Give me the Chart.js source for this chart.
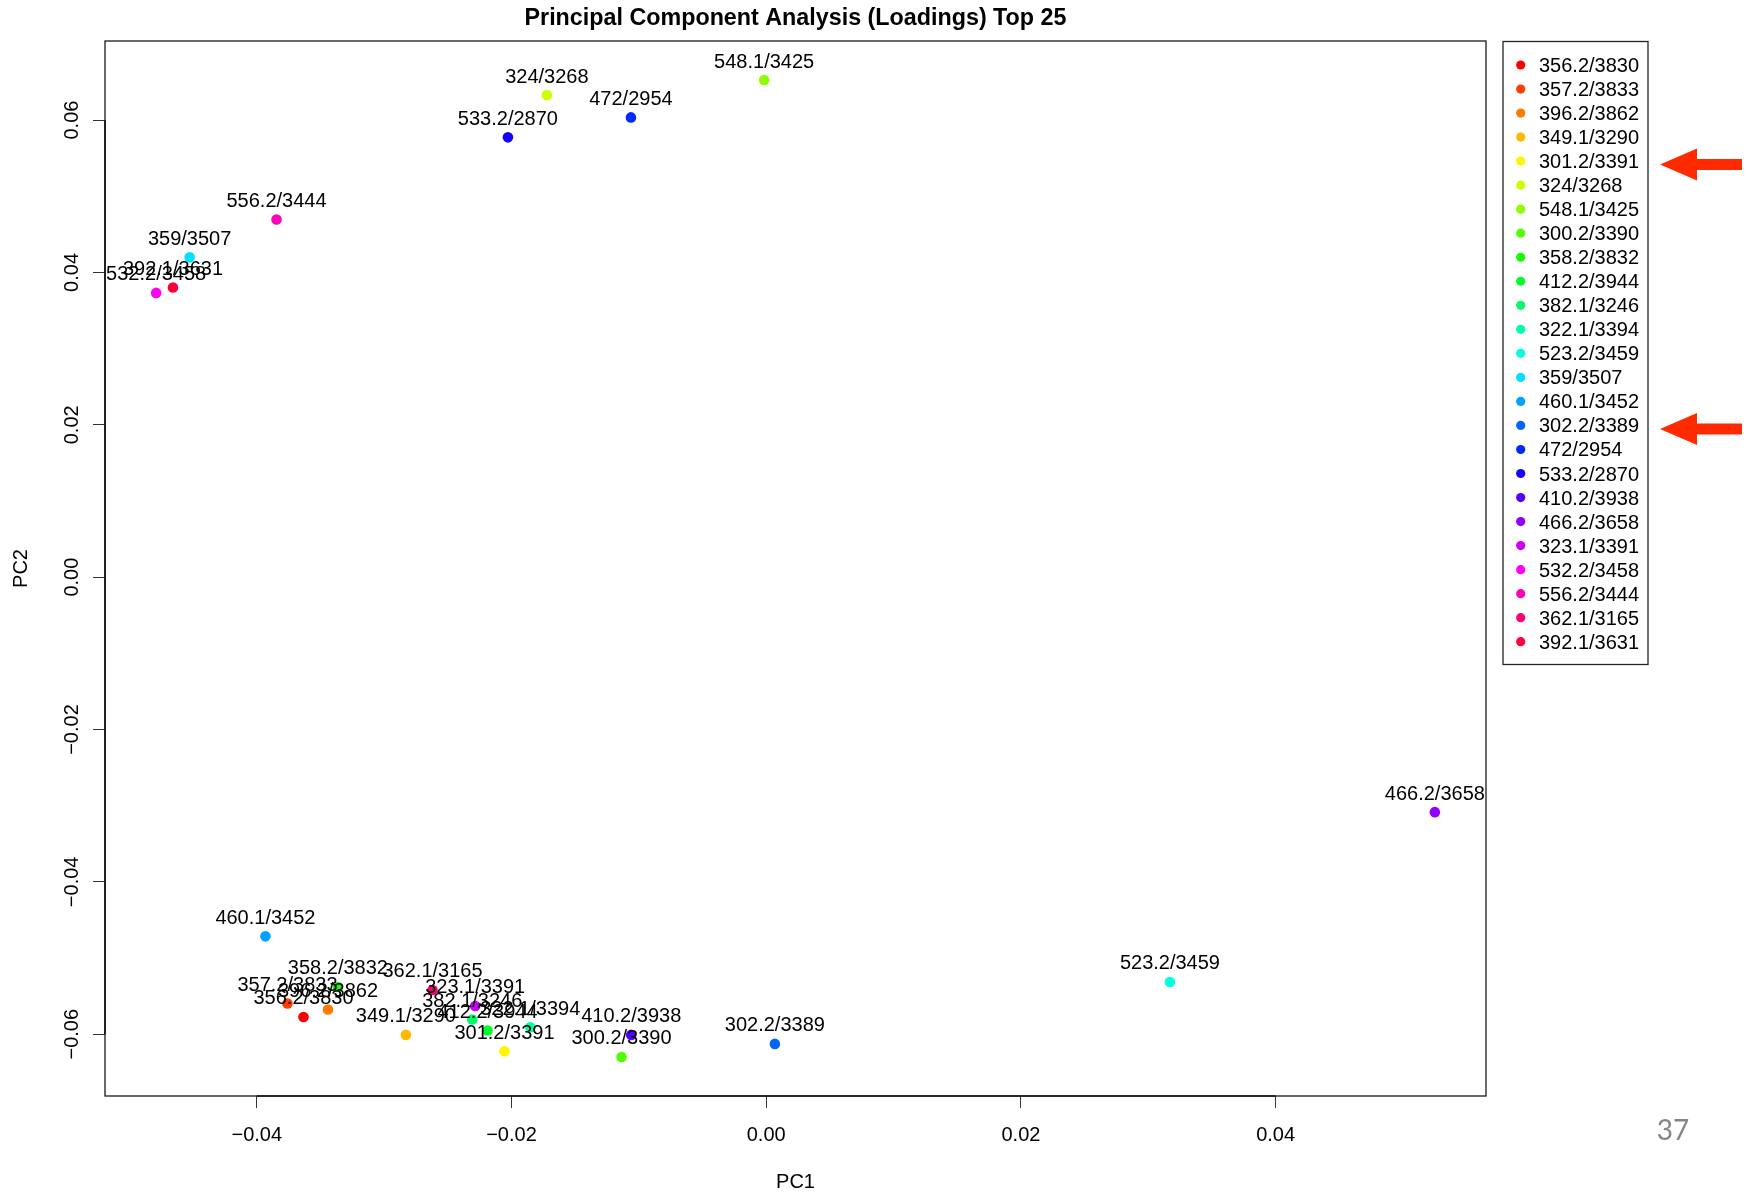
<!DOCTYPE html>
<html>
<head>
<meta charset="utf-8">
<title>Principal Component Analysis (Loadings) Top 25</title>
<script src="https://cdn.jsdelivr.net/npm/chart.js@4.4.1/dist/chart.umd.min.js"></script>
<style>
  html, body { margin: 0; padding: 0; background: #ffffff; overflow: hidden; }
  canvas { display: block; }
</style>
</head>
<body>
<canvas id="pca" width="1747" height="1193"></canvas>
<script>
// Loadings of the top 25 features (mass/retention) on the first two components
const compounds = [
  '356.2/3830', '357.2/3833', '396.2/3862', '349.1/3290', '301.2/3391',
  '324/3268',   '548.1/3425', '300.2/3390', '358.2/3832', '412.2/3944',
  '382.1/3246', '322.1/3394', '523.2/3459', '359/3507',   '460.1/3452',
  '302.2/3389', '472/2954',   '533.2/2870', '410.2/3938', '466.2/3658',
  '323.1/3391', '532.2/3458', '556.2/3444', '362.1/3165', '392.1/3631'
];
const pc1 = [
  -0.03633, -0.03759, -0.03441, -0.02829, -0.02055,
  -0.01722, -0.00016, -0.01136, -0.03363, -0.02188,
  -0.02308, -0.01853,  0.03170, -0.04527, -0.03932,
   0.00068, -0.01062, -0.02028, -0.01060,  0.05250,
  -0.02285, -0.04790, -0.03845, -0.02620, -0.04658
];
const pc2 = [
  -0.05773, -0.05597, -0.05676, -0.06009, -0.06223,
   0.06328,  0.06525, -0.06298, -0.05380, -0.05951,
  -0.05807, -0.05908, -0.05314,  0.04198, -0.04715,
  -0.06127,  0.06035,  0.05773, -0.06009, -0.03085,
  -0.05629,  0.03731,  0.04695, -0.05419,  0.03803
];
const xTicks = [-0.04, -0.02, 0.00, 0.02, 0.04];
const yTicks = [-0.06, -0.04, -0.02, 0.00, 0.02, 0.04, 0.06];
const chartTitle = 'Principal Component Analysis (Loadings) Top 25';
const xTitle = 'PC1';
const yTitle = 'PC2';
const pageNumber = '37';
const highlighted = ['301.2/3391', '302.2/3389'];

// rainbow palette, one hue per compound
const palette = compounds.map((_, i) => `hsl(${(i * 360 / compounds.length).toFixed(1)}, 100%, 50%)`);

// axis limits with 4% breathing room on each side
function paddedRange(values) {
  const lo = Math.min(...values), hi = Math.max(...values);
  const pad = (hi - lo) * 0.04;
  return [lo - pad, hi + pad];
}
const [xMin, xMax] = paddedRange(pc1);
const [yMin, yMax] = paddedRange(pc2);

const FONT = '"Liberation Sans", Arial, Helvetica, sans-serif';
const TEXT_SIZE = 20;
const fmt = v => (v < 0 ? '\u2212' : '') + Math.abs(v).toFixed(2);

const points = compounds.map((name, i) => ({ x: pc1[i], y: pc2[i], name }));

// text labels above each point
const pointLabels = {
  id: 'pointLabels',
  afterDatasetsDraw(chart) {
    const ctx = chart.ctx;
    const meta = chart.getDatasetMeta(0);
    ctx.save();
    ctx.font = `${TEXT_SIZE}px ${FONT}`;
    ctx.fillStyle = '#000';
    ctx.textAlign = 'center';
    ctx.textBaseline = 'alphabetic';
    meta.data.forEach((el, i) => {
      ctx.fillText(points[i].name, el.x, el.y - 12.5);
    });
    ctx.restore();
  }
};

// frame, title, rotated y tick labels, axis titles, legend box
const decorations = {
  id: 'decorations',
  afterDraw(chart) {
    const ctx = chart.ctx;
    const a = chart.chartArea;
    const xs = chart.scales.x, ys = chart.scales.y;
    ctx.save();

    // plot frame
    ctx.strokeStyle = '#1a1a1a';
    ctx.lineWidth = 1.3;
    ctx.strokeRect(a.left, a.top, a.right - a.left, a.bottom - a.top);
    // axis lines between first and last tick
    ctx.lineWidth = 1.6;
    ctx.strokeStyle = '#111';
    ctx.beginPath();
    ctx.moveTo(xs.getPixelForValue(xTicks[0]), a.bottom);
    ctx.lineTo(xs.getPixelForValue(xTicks[xTicks.length - 1]), a.bottom);
    ctx.moveTo(a.left, ys.getPixelForValue(yTicks[0]));
    ctx.lineTo(a.left, ys.getPixelForValue(yTicks[yTicks.length - 1]));
    ctx.stroke();

    // title
    ctx.fillStyle = '#000';
    ctx.font = `bold 23.3px ${FONT}`;
    ctx.textAlign = 'center';
    ctx.textBaseline = 'alphabetic';
    ctx.fillText(chartTitle, (a.left + a.right) / 2, 25);

    // y tick labels, read bottom-to-top
    ctx.font = `${TEXT_SIZE}px ${FONT}`;
    ys.ticks.forEach(t => {
      const py = ys.getPixelForValue(t.value);
      ctx.save();
      ctx.translate(77.5, py);
      ctx.rotate(-Math.PI / 2);
      ctx.textAlign = 'center';
      ctx.textBaseline = 'alphabetic';
      ctx.fillText(fmt(t.value), 0, 0);
      ctx.restore();
    });

    // axis titles
    ctx.textAlign = 'center';
    ctx.fillText(xTitle, (a.left + a.right) / 2, 1188);
    ctx.save();
    ctx.translate(27, (a.top + a.bottom) / 2);
    ctx.rotate(-Math.PI / 2);
    ctx.fillText(yTitle, 0, 0);
    ctx.restore();

    // legend
    const lx = 1503, ly = 41.5, lw = 145, lh = 623, rowH = 24.03, firstRow = 65;
    ctx.strokeStyle = '#222';
    ctx.lineWidth = 1.3;
    ctx.strokeRect(lx, ly, lw, lh);
    ctx.textAlign = 'left';
    compounds.forEach((name, i) => {
      const cy = firstRow + i * rowH;
      ctx.beginPath();
      ctx.fillStyle = palette[i];
      ctx.arc(lx + 17.7, cy, 4.6, 0, Math.PI * 2);
      ctx.fill();
      ctx.fillStyle = '#000';
      ctx.fillText(name, lx + 36, cy + 7);
    });

    // pointer arrows next to highlighted legend rows
    ctx.fillStyle = '#ff2a00';
    highlighted.forEach(name => {
      const cy = firstRow + compounds.indexOf(name) * rowH + 3.5;
      const tip = 1660, headBack = 1697, end = 1742, headHalf = 16, shaftHalf = 5.5;
      ctx.beginPath();
      ctx.moveTo(tip, cy);
      ctx.lineTo(headBack, cy - headHalf);
      ctx.lineTo(headBack, cy - shaftHalf);
      ctx.lineTo(end, cy - shaftHalf);
      ctx.lineTo(end, cy + shaftHalf);
      ctx.lineTo(headBack, cy + shaftHalf);
      ctx.lineTo(headBack, cy + headHalf);
      ctx.closePath();
      ctx.fill();
    });

    // page number
    ctx.fillStyle = '#858585';
    ctx.font = `28px Lato, "Open Sans", sans-serif`;
    ctx.textAlign = 'center';
    ctx.fillText(pageNumber, 1673, 1140);

    ctx.restore();
  }
};

new Chart(document.getElementById('pca'), {
  type: 'scatter',
  data: {
    datasets: [{
      label: chartTitle,
      data: points,
      backgroundColor: palette,
      pointBackgroundColor: palette,
      pointBorderWidth: 0,
      pointRadius: 5.3,
      pointHoverRadius: 5.3
    }]
  },
  options: {
    responsive: false,
    animation: false,
    events: [],
    layout: { padding: { top: 41, right: 261, left: 0, bottom: 0 } },
    plugins: { legend: { display: false }, tooltip: { enabled: false }, title: { display: false } },
    scales: {
      x: {
        type: 'linear',
        position: 'bottom',
        min: xMin,
        max: xMax,
        afterBuildTicks: s => { s.ticks = xTicks.map(v => ({ value: v })); },
        afterFit: s => { s.height = 97; },
        ticks: {
          font: { family: FONT, size: TEXT_SIZE },
          color: '#000',
          padding: 15,
          maxRotation: 0,
          autoSkip: false,
          callback: v => fmt(v)
        },
        grid: { display: true, drawOnChartArea: false, drawTicks: true, tickLength: 12, color: '#333', lineWidth: 1 },
        border: { display: false }
      },
      y: {
        type: 'linear',
        position: 'left',
        min: yMin,
        max: yMax,
        afterBuildTicks: s => { s.ticks = yTicks.map(v => ({ value: v })); },
        afterFit: s => { s.width = 105; },
        ticks: { display: false },
        grid: { display: true, drawOnChartArea: false, drawTicks: true, tickLength: 12, color: '#333', lineWidth: 1 },
        border: { display: false }
      }
    }
  },
  plugins: [pointLabels, decorations]
});
</script>
</body>
</html>
